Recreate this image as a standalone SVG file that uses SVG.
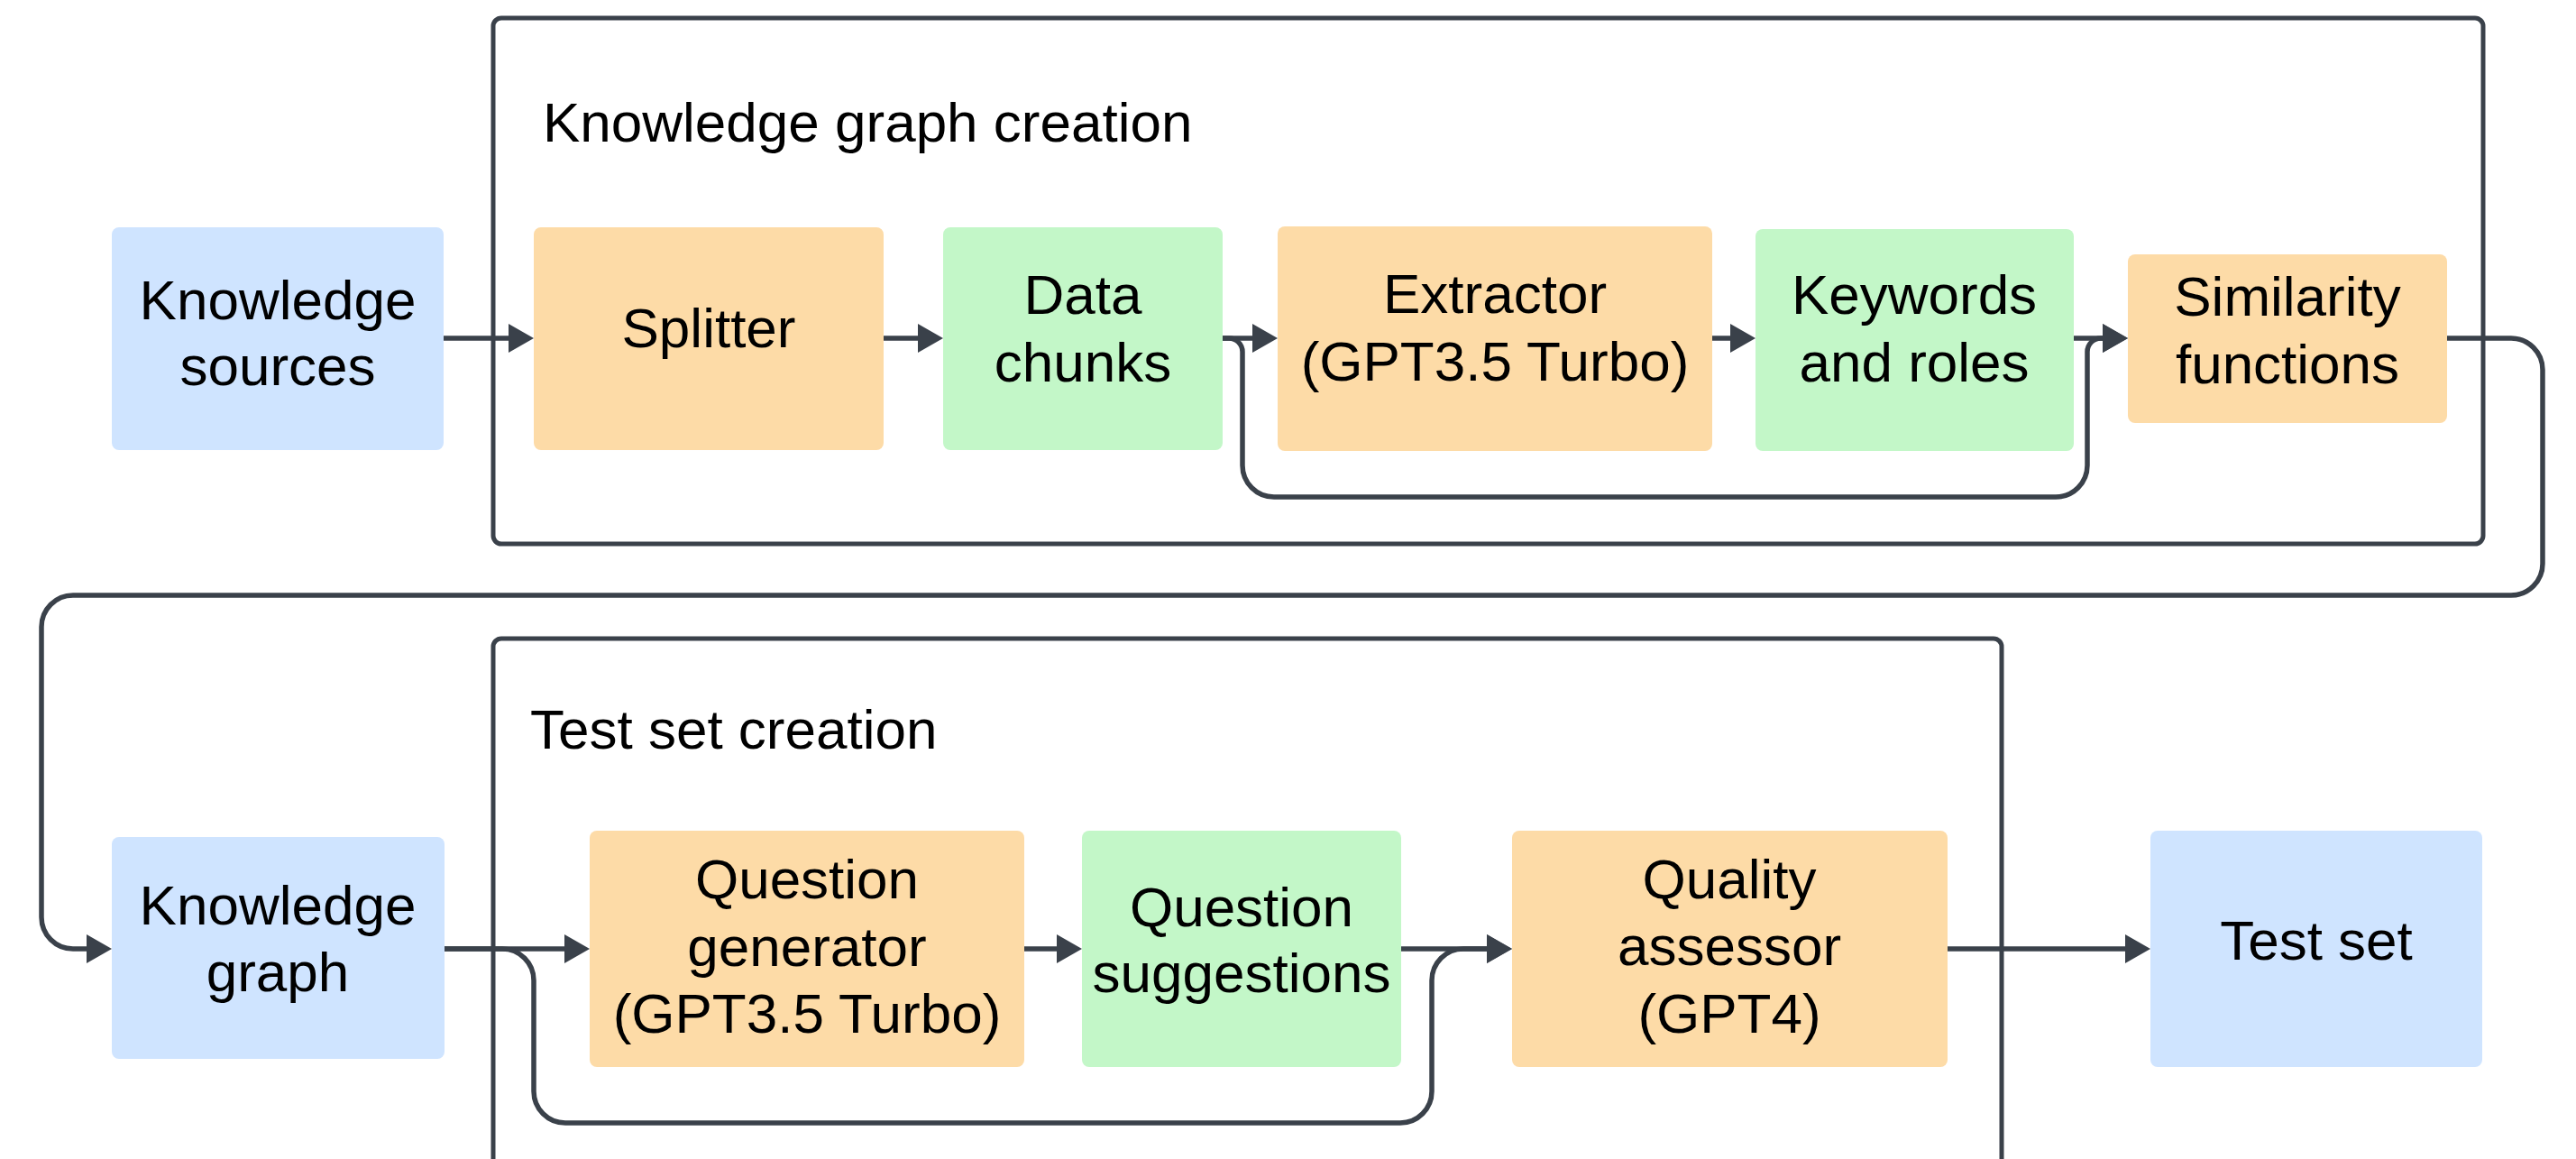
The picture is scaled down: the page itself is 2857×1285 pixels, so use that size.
<svg xmlns="http://www.w3.org/2000/svg" width="2857" height="1285" viewBox="0 0 2857 1285">
<defs>
<style>
.grp{fill:none;stroke:#3a414a;stroke-width:5}
.blue{fill:#cfe4ff}
.orange{fill:#fddba7}
.green{fill:#c3f7c8}
text{font-family:"Liberation Sans",Arial,sans-serif;font-size:62px;fill:#000}
.c{text-anchor:middle}
.con{fill:none;stroke:#3a414a;stroke-width:5.5}
</style>
<marker id="ah" markerUnits="userSpaceOnUse" markerWidth="30" markerHeight="34" refX="0" refY="16" orient="auto" viewBox="0 0 30 34">
<path d="M0,0 L28,16 L0,32 z" fill="#3a414a"/>
</marker>
</defs>
<rect width="2857" height="1285" fill="#fff"/>
<g id="group-kg-creation">
<rect class="grp" x="547" y="20" width="2207" height="583" rx="9"/>
<text x="602" y="157">Knowledge graph creation</text>
</g>
<g id="group-test-set-creation">
<rect class="grp" x="547" y="708" width="1673" height="640" rx="9"/>
<text x="588" y="830">Test set creation</text>
</g>
<g id="connectors">
<path class="con" d="M492,375 H564" marker-end="url(#ah)"/>
<path class="con" d="M980,375 H1018" marker-end="url(#ah)"/>
<path class="con" d="M1356,375 H1389" marker-end="url(#ah)"/>
<path class="con" d="M1356,375 H1363 A15,15 0 0 1 1378,390 V516 A35,35 0 0 0 1413,551 H2280 A35,35 0 0 0 2315,516 V390 A15,15 0 0 1 2330,375 H2332" marker-end="url(#ah)"/>
<path class="con" d="M1899,375 H1919" marker-end="url(#ah)"/>
<path class="con" d="M2300,375 H2332" marker-end="url(#ah)"/>
<path class="con" d="M2714,375 H2785 A35,35 0 0 1 2820,410 V625 A35,35 0 0 1 2785,660 H81 A35,35 0 0 0 46,695 V1017 A35,35 0 0 0 81,1052 H96" marker-end="url(#ah)"/>
<path class="con" d="M493,1052 H626" marker-end="url(#ah)"/>
<path class="con" d="M493,1052 H557 A35,35 0 0 1 592,1087 V1210 A35,35 0 0 0 627,1245 H1553 A35,35 0 0 0 1588,1210 V1087 A35,35 0 0 1 1623,1052 H1649" marker-end="url(#ah)"/>
<path class="con" d="M1136,1052 H1172" marker-end="url(#ah)"/>
<path class="con" d="M1554,1052 H1649" marker-end="url(#ah)"/>
<path class="con" d="M2160,1052 H2357" marker-end="url(#ah)"/>
</g>
<g id="knowledge-sources">
<rect class="blue" x="124" y="252" width="368" height="247" rx="8"/>
<text class="c" x="308" y="354">Knowledge</text>
<text class="c" x="308" y="427">sources</text>
</g>
<g id="splitter">
<rect class="orange" x="592" y="252" width="388" height="247" rx="8"/>
<text class="c" x="786" y="385">Splitter</text>
</g>
<g id="data-chunks">
<rect class="green" x="1046" y="252" width="310" height="247" rx="8"/>
<text class="c" x="1201" y="348">Data</text>
<text class="c" x="1201" y="423">chunks</text>
</g>
<g id="extractor">
<rect class="orange" x="1417" y="251" width="482" height="249" rx="8"/>
<text class="c" x="1658" y="347">Extractor</text>
<text class="c" x="1658" y="422">(GPT3.5 Turbo)</text>
</g>
<g id="keywords-and-roles">
<rect class="green" x="1947" y="254" width="353" height="246" rx="8"/>
<text class="c" x="2123" y="348">Keywords</text>
<text class="c" x="2123" y="423">and roles</text>
</g>
<g id="similarity-functions">
<rect class="orange" x="2360" y="282" width="354" height="187" rx="8"/>
<text class="c" x="2537" y="350">Similarity</text>
<text class="c" x="2537" y="425">functions</text>
</g>
<g id="knowledge-graph">
<rect class="blue" x="124" y="928" width="369" height="246" rx="8"/>
<text class="c" x="308" y="1025">Knowledge</text>
<text class="c" x="308" y="1099">graph</text>
</g>
<g id="question-generator">
<rect class="orange" x="654" y="921" width="482" height="262" rx="8"/>
<text class="c" x="895" y="996">Question</text>
<text class="c" x="895" y="1071">generator</text>
<text class="c" x="895" y="1145">(GPT3.5 Turbo)</text>
</g>
<g id="question-suggestions">
<rect class="green" x="1200" y="921" width="354" height="262" rx="8"/>
<text class="c" x="1377" y="1027">Question</text>
<text class="c" x="1377" y="1100">suggestions</text>
</g>
<g id="quality-assessor">
<rect class="orange" x="1677" y="921" width="483" height="262" rx="8"/>
<text class="c" x="1918" y="996">Quality</text>
<text class="c" x="1918" y="1070">assessor</text>
<text class="c" x="1918" y="1145">(GPT4)</text>
</g>
<g id="test-set">
<rect class="blue" x="2385" y="921" width="368" height="262" rx="8"/>
<text class="c" x="2569" y="1064">Test set</text>
</g>
</svg>
